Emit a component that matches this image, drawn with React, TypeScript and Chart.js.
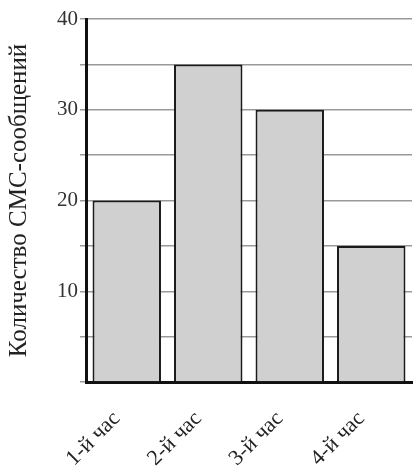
import React, { useEffect, useRef } from "react";
import { Chart, registerables } from "chart.js";

Chart.register(...registerables);

const categories = ["1-й час", "2-й час", "3-й час", "4-й час"];
const values = [20, 35, 30, 15];
const yTickLabels = [10, 20, 30, 40];
const yTitle = "Количество СМС-сообщений";

export default function App() {
  const ref = useRef<HTMLCanvasElement | null>(null);
  useEffect(() => {
    document.body.style.margin = "0";
    const ctx = ref.current;
    if (!ctx) return;
    const chart = new Chart(ctx, {
      type: "bar",
      data: {
        labels: categories,
        datasets: [
          {
            data: values,
            backgroundColor: "#d0d0d0",
            borderColor: "#1a1a1a",
            borderWidth: 2,
            barPercentage: 0.84,
            categoryPercentage: 1,
          },
        ],
      },
      options: {
        animation: false,
        responsive: false,
        maintainAspectRatio: false,
        devicePixelRatio: 1,
        layout: { padding: { left: 4, top: 19, right: 3, bottom: 0 } },
        plugins: { legend: { display: false }, tooltip: { enabled: false } },
        scales: {
          x: {
            grid: { display: false },
            border: { display: true, color: "#111", width: 3 },
            afterFit: (scale: any) => {
              scale.height = 87;
            },
            ticks: {
              color: "#222",
              font: { family: "Liberation Serif", size: 22 },
              maxRotation: 45,
              minRotation: 45,
              padding: 16,
              labelOffset: -10,
            },
          },
          y: {
            min: 0,
            max: 40,
            z: 1,
            grid: { color: "#999", lineWidth: 1.5, tickLength: 6, tickColor: "#999" },
            border: { display: true, color: "#111", width: 3 },
            ticks: {
              stepSize: 5,
              color: "#333",
              font: { family: "Liberation Serif", size: 21 },
              padding: 2,
              callback: (v: any) => (yTickLabels.includes(Number(v)) ? String(v) : ""),
            },
            title: {
              display: true,
              text: yTitle,
              color: "#222",
              font: { family: "Liberation Serif", size: 25 },
              padding: { top: 0, bottom: 21 },
            },
          },
        },
      },
    });
    return () => chart.destroy();
  }, []);
  return (
    <div style={{ width: 415, height: 469 }}>
      <canvas ref={ref} width={415} height={469} style={{ width: 415, height: 469 }} />
    </div>
  );
}
